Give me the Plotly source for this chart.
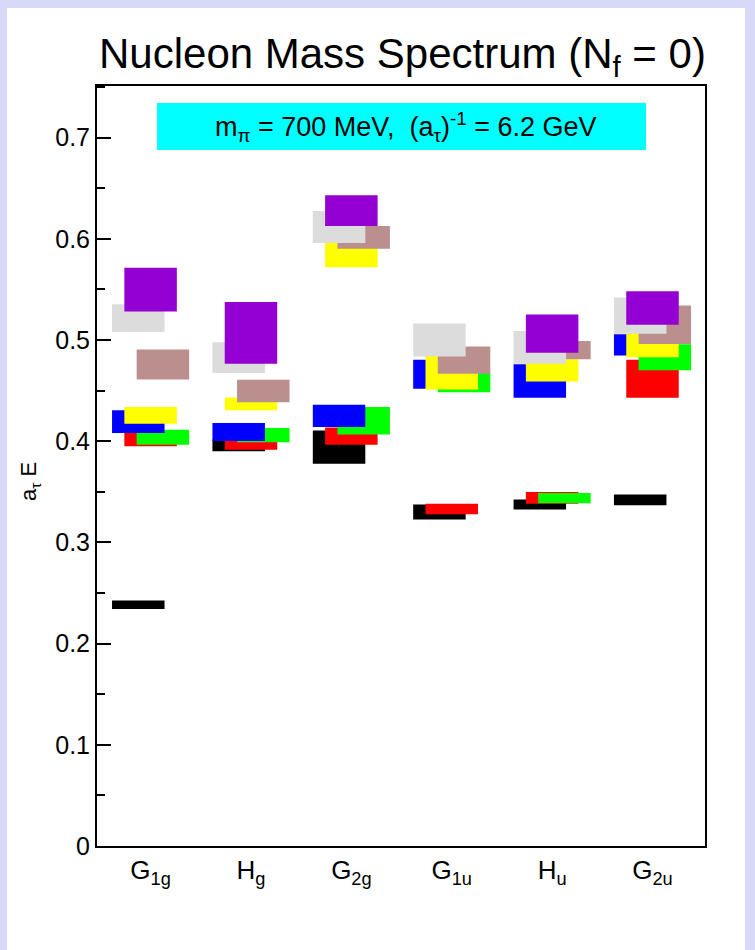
import plotly.graph_objects as go

# ---------------- data ----------------
categories = ["G<sub>1g</sub>", "H<sub>g</sub>", "G<sub>2g</sub>",
              "G<sub>1u</sub>", "H<sub>u</sub>", "G<sub>2u</sub>"]

# energy levels (a_tau E) and their errors, one list per level colour
black_E  = [0.2384, 0.3960, 0.3942, 0.3301, 0.3375, 0.3420]
black_dE = [0.0043, 0.0060, 0.0165, 0.0074, 0.0050, 0.0054]
red_E    = [0.4020, 0.3965, 0.4050, 0.3330, 0.3440, 0.4618]
red_dE   = [0.0070, 0.0050, 0.0085, 0.0053, 0.0057, 0.0188]
green_E  = [0.4040, 0.4060, 0.4202, 0.4580, 0.3438, 0.4829]
green_dE = [0.0074, 0.0070, 0.0135, 0.0095, 0.0050, 0.0128]
blue_E   = [0.4193, 0.4090, 0.4250, 0.4662, 0.4595, 0.4952]
blue_dE  = [0.0113, 0.0089, 0.0110, 0.0143, 0.0165, 0.0104]
yellow_E = [0.4255, 0.4368, 0.5840, 0.4680, 0.4700, 0.4950]
yellow_dE= [0.0082, 0.0063, 0.0120, 0.0170, 0.0110, 0.0120]
brown_E  = [0.4757, 0.4497, 0.6015, 0.4802, 0.4899, 0.5150]
brown_dE = [0.0148, 0.0111, 0.0112, 0.0135, 0.0090, 0.0190]
gray_E   = [0.5216, 0.4826, 0.6116, 0.5000, 0.4927, 0.5241]
gray_dE  = [0.0137, 0.0153, 0.0158, 0.0162, 0.0161, 0.0178]
purple_E = [0.5498, 0.5071, 0.6278, None,   0.5063, 0.5316]
purple_dE= [0.0217, 0.0305, 0.0152, None,   0.0188, 0.0165]

y_tickvals = [0, 0.1, 0.2, 0.3, 0.4, 0.5, 0.6, 0.7]
y_ticktext = ["0", "0.1", "0.2", "0.3", "0.4", "0.5", "0.6", "0.7"]

# ---------------- style ----------------
levels = [
    ("#000000", black_E, black_dE),
    ("#FF0000", red_E, red_dE),
    ("#00FF00", green_E, green_dE),
    ("#0000FF", blue_E, blue_dE),
    ("#FFFF00", yellow_E, yellow_dE),
    ("#BC8F8F", brown_E, brown_dE),
    ("#DCDCDC", gray_E, gray_dE),
    ("#9400D3", purple_E, purple_dE),
]
offsets = [-0.1226, 0.0, 0.1226]
box_w = 0.523
FONT = "Liberation Sans, Arial, sans-serif"

fig = go.Figure()
for k, (col, E, dE) in enumerate(levels):
    xs, bases, hs = [], [], []
    for i, (e, d) in enumerate(zip(E, dE)):
        if e is None:
            continue
        xs.append(i + 1 + offsets[k % 3])
        bases.append(e - d)
        hs.append(2 * d)
    fig.add_trace(go.Bar(x=xs, y=hs, base=bases, width=box_w,
                         marker=dict(color=col, line=dict(width=0)),
                         showlegend=False, hoverinfo="skip"))

L, R, T, B = 97, 50, 86, 104
pw = 755 - L - R
ph = 950 - T - B

def px_x(p):
    return (p - L) / pw

def px_y(p):
    return (950 - B - p) / ph

fig.update_layout(
    width=755, height=950,
    margin=dict(l=L, r=R, t=T, b=B, pad=0),
    paper_bgcolor="#D8D8F8",
    plot_bgcolor="white",
    barmode="overlay",
    font=dict(family=FONT, color="black"),
    shapes=[
        dict(type="rect", xref="paper", yref="paper", layer="below",
             x0=px_x(7), x1=px_x(745), y0=px_y(950), y1=px_y(8),
             fillcolor="white", line=dict(width=0)),
        dict(type="rect", xref="paper", yref="paper", layer="below",
             x0=px_x(157), x1=px_x(646), y0=px_y(150), y1=px_y(103),
             fillcolor="#00FFFF", line=dict(width=0)),
    ],
    annotations=[
        dict(text="Nucleon Mass Spectrum (N<sub>f</sub> = 0)", xref="paper", yref="paper",
             x=px_x(402), y=px_y(57), xanchor="center", yanchor="middle",
             showarrow=False, font=dict(size=42, family=FONT)),
        dict(text="m<sub>π</sub> = 700 MeV,  (a<sub>τ</sub>)<sup>-1</sup> = 6.2 GeV",
             xref="paper", yref="paper", x=px_x(406), y=px_y(127),
             xanchor="center", yanchor="middle", showarrow=False,
             font=dict(size=27, family=FONT)),
        dict(text="a<sub>τ</sub> E", xref="paper", yref="paper",
             x=px_x(30), y=px_y(482), xanchor="center", yanchor="middle",
             textangle=-90, showarrow=False, font=dict(size=22, family=FONT)),
    ],
)

fig.update_xaxes(range=[0.466, 6.523], tickmode="array",
                 tickvals=[1, 2, 3, 4, 5, 6], ticktext=categories,
                 showline=True, linecolor="black", linewidth=2, mirror=True,
                 ticks="", showgrid=False, zeroline=False,
                 tickfont=dict(size=26, family=FONT))
fig.update_yaxes(range=[0, 0.751], tickmode="array",
                 tickvals=y_tickvals, ticktext=y_ticktext,
                 showline=True, linecolor="black", linewidth=2, mirror=True,
                 ticks="inside", ticklen=14, tickwidth=2, tickcolor="black",
                 minor=dict(ticks="inside", ticklen=8, tickwidth=2,
                            tickcolor="black", dtick=0.05, showgrid=False),
                 showgrid=False, zeroline=False,
                 tickfont=dict(size=25, family=FONT))

fig.write_html("out.html")
